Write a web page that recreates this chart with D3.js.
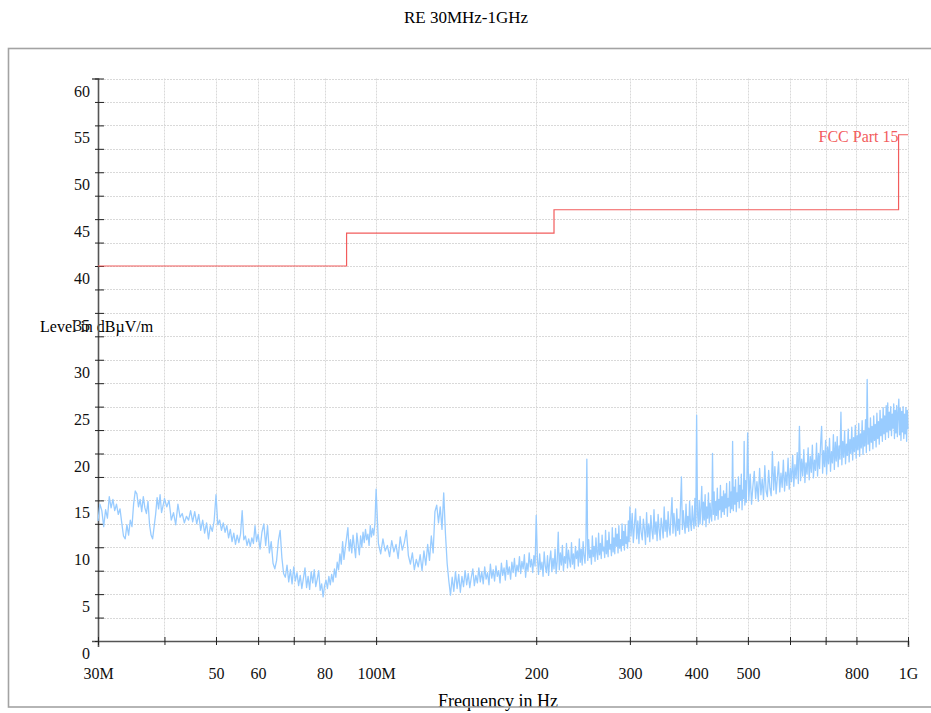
<!DOCTYPE html>
<html>
<head>
<meta charset="utf-8">
<script src="https://cdn.jsdelivr.net/npm/d3@7"></script>
<style>
  body { margin: 0; background: #fff; }
  svg text { font-family: "Liberation Serif", "Times New Roman", serif; }
</style>
</head>
<body>
<svg></svg>
<script>
// frequencies in MHz, levels in dBµV/m
let trace30to60 = [
  [30,12.8],[30.25,14.6],[30.5,13.9],[30.75,12.2],[31,14.0],[31.25,13.1],[31.5,15.4],[31.75,14.2],[32,15.1],[32.25,13.9],
  [32.5,14.6],[32.75,13.5],[33,14.1],[33.25,12.6],[33.5,11.2],[33.75,10.9],[34,12.4],[34.25,11.3],[34.5,12.9],[34.75,12.2],
  [35,14.6],[35.25,16.0],[35.5,15.7],[35.75,14.3],[36,15.1],[36.25,13.8],[36.5,15.4],[36.75,14.2],[37,13.6],[37.25,14.9],
  [37.5,12.4],[37.75,11.3],[38,10.9],[38.25,12.2],[38.5,13.5],[38.75,15.3],[39,14.1],[39.25,15.6],[39.5,13.7],[39.75,14.4],
  [40,15.2],[40.4,14.3],[40.8,15.0],[41.2,12.9],[41.6,13.7],[42,12.4],[42.4,14.6],[42.8,13.2],[43.2,13.6],[43.6,12.6],
  [44,13.3],[44.4,12.9],[44.8,13.9],[45.2,12.7],[45.6,13.8],[46,12.5],[46.4,13.5],[46.8,11.8],[47.2,12.9],[47.6,11.5],
  [48,12.6],[48.4,10.9],[48.8,12.3],[49.2,11.7],[49.6,12.8],[50,15.6],[50.4,12.4],[50.8,12.9],[51.2,11.8],[51.6,12.6],
  [52,11.6],[52.4,12.3],[52.8,11.0],[53.2,11.9],[53.6,10.6],[54,11.5],[54.4,10.3],[54.8,11.3],[55.2,10.5],[55.6,11.4],
  [56,13.9],[56.4,10.8],[56.8,11.2],[57.2,10.2],[57.6,10.9],[58,10.1],[58.4,11.0],[58.8,10.4],[59.2,12.3],[59.6,10.6],[60,11.4]
]

let trace60to100 = [
  [60.5,9.8],[61,11.6],[61.5,12.5],[62,10.2],[62.5,12.3],[63,9.4],[63.5,10.6],[64,8.3],[64.5,7.7],[65,8.6],
  [65.5,10.7],[66,11.8],[66.5,8.9],[67,7.2],[67.5,6.8],[68,8.1],[68.5,6.3],[69,7.6],[69.5,6.1],[70,7.9],
  [70.5,6.4],[71,7.3],[71.5,5.9],[72,7.0],[72.5,5.6],[73,6.7],[73.5,7.8],[74,5.7],[74.5,6.9],[75,5.5],
  [75.5,7.4],[76,6.2],[76.5,7.6],[77,5.8],[77.5,6.6],[78,7.5],[78.5,5.4],[79,6.1],[79.5,4.7],[80,5.9],
  [80.5,6.5],[81,5.6],[81.5,6.9],[82,6.0],[82.5,7.1],[83,6.3],[83.5,7.7],[84,6.8],[84.5,8.4],[85,7.6],
  [85.5,9.3],[86,8.2],[86.5,10.6],[87,8.7],[87.5,9.9],[88,11.0],[88.5,12.1],[89,9.6],[89.5,10.8],[90,9.4],
  [90.5,11.3],[91,10.1],[91.5,8.9],[92,11.5],[92.5,10.3],[93,9.2],[93.5,11.2],[94,10.0],[94.5,11.6],[95,10.5],
  [95.5,11.9],[96,10.8],[96.5,11.4],[97,10.2],[97.5,12.3],[98,11.1],[98.5,12.0],[99,11.3],[99.5,12.6],[100,16.2]
]

let trace100to200 = [
  [101,10.4],[102,9.3],[103,10.9],[104,9.6],[105,10.2],[106,9.0],[107,10.7],[108,9.5],[109,10.3],[110,8.8],
  [111,11.1],[112,9.7],[113,10.5],[114,11.8],[115,9.1],[116,8.2],[117,9.4],[118,7.6],[119,8.7],[120,7.9],
  [121,9.2],[122,7.5],[123,9.6],[124,8.1],[125,10.3],[126,8.6],[127,11.2],[128,9.4],[129,13.8],[130,14.5],
  [131,12.6],[132,14.3],[133,11.9],[134,15.8],[135,11.5],[136,8.3],[137,6.4],[138,4.9],[139,6.8],[140,5.3],
  [141,7.4],[142,5.6],[143,7.1],[144,5.2],[145,6.9],[146,5.8],[147,7.5],[148,6.0],[149,7.2],[150,5.7],
  [151,6.8],[152,7.7],[153,5.9],[154,7.0],[155,6.2],[156,7.8],[157,6.3],[158,7.4],[159,6.1],[160,7.9],
  [161,6.6],[162,7.3],[163,6.0],[164,8.2],[165,6.7],[166,7.6],[167,6.4],[168,8.0],[169,6.9],[170,7.5],
  [171,6.2],[172,8.3],[173,7.0],[174,7.8],[175,6.5],[176,8.6],[177,7.1],[178,7.9],[179,6.6],[180,8.4],
  [181,7.3],[182,8.8],[183,6.9],[184,8.1],[185,7.4],[186,9.0],[187,7.2],[188,8.5],[189,7.7],[190,9.2],
  [191,6.8],[192,8.3],[193,7.5],[194,9.4],[195,7.9],[196,8.7],[197,7.3],[198,9.1],[199,8.0],[200,13.4]
]

let trace200to300 = [
  [201,8.9],[202,7.1],[203,9.3],[204,7.6],[205,8.4],[206,6.9],[207,9.5],[208,8.0],[209,7.3],[210,9.1],
  [211,7.0],[212,8.6],[213,9.6],[214,7.4],[215,8.8],[216,7.7],[217,9.8],[218,7.2],[219,8.5],[220,11.6],
  [221,7.6],[222,9.4],[223,8.1],[224,10.2],[225,7.5],[226,9.0],[227,8.3],[228,10.4],[229,7.8],[230,9.7],
  [231,8.6],[232,7.9],[233,10.5],[234,8.2],[235,9.3],[236,7.7],[237,10.1],[238,8.8],[239,9.6],[240,8.0],
  [241,10.9],[242,8.4],[243,9.8],[244,8.1],[245,10.6],[246,9.1],[247,8.3],[248,10.3],[249,19.4],[250,8.6],
  [251,10.8],[252,8.9],[253,9.7],[254,8.2],[255,11.2],[256,9.0],[257,10.1],[258,8.5],[259,11.0],[260,9.4],
  [261,8.7],[262,11.5],[263,9.2],[264,10.4],[265,8.8],[266,11.3],[267,9.6],[268,10.0],[269,8.9],[270,11.8],
  [271,9.3],[272,10.7],[273,9.0],[274,11.6],[275,9.8],[276,10.3],[277,9.1],[278,12.1],[279,9.5],[280,11.0],
  [281,9.3],[282,12.0],[283,10.1],[284,11.4],[285,9.4],[286,12.3],[287,9.9],[288,10.8],[289,9.6],[290,12.5],
  [291,10.2],[292,11.7],[293,9.7],[294,12.4],[295,10.4],[296,11.1],[297,9.9],[298,12.8],[299,10.6],[300,14.3]
]

let trace300to500 = [
  [301.5,11.2],[303,13.6],[304.5,10.5],[306,12.4],[307.5,14.1],[309,10.9],[310.5,12.8],[312,10.4],[313.5,13.3],[315,11.6],
  [316.5,10.8],[318,13.0],[319.5,11.9],[321,10.3],[322.5,13.7],[324,11.1],[325.5,12.5],[327,10.6],[328.5,13.4],[330,11.8],
  [331.5,10.9],[333,14.0],[334.5,11.4],[336,12.7],[337.5,10.7],[339,13.5],[340.5,11.9],[342,10.8],[343.5,13.1],[345,12.2],
  [346.5,11.0],[348,14.3],[349.5,11.7],[351,12.9],[352.5,11.1],[354,13.8],[355.5,12.0],[357,11.3],[358.5,13.4],[360,15.3],
  [361.5,11.5],[363,13.6],[364.5,12.3],[366,11.2],[367.5,14.1],[369,11.8],[370.5,13.0],[372,11.4],[373.5,14.5],[375,17.5],
  [376.5,11.9],[378,13.9],[379.5,12.4],[381,11.5],[382.5,14.6],[384,12.1],[385.5,13.3],[387,11.7],[388.5,14.9],[390,12.6],
  [391.5,11.8],[393,14.4],[394.5,12.8],[396,12.0],[397.5,15.2],[399,12.3],[400.5,24.1],[402,13.7],[403.5,12.2],[405,15.0],
  [406.5,12.5],[408,14.1],[409.5,16.5],[411,12.4],[412.5,14.8],[414,12.9],[415.5,15.6],[417,12.2],[418.5,14.3],[420,13.1],
  [421.5,15.8],[423,12.6],[424.5,14.7],[426,13.3],[427.5,12.8],[429,20.0],[430.5,13.5],[432,15.9],[433.5,12.9],[435,14.9],
  [436.5,13.4],[438,16.3],[439.5,13.0],[441,15.1],[442.5,14.0],[444,16.6],[445.5,13.2],[447,15.4],[448.5,13.8],[450,16.0],
  [451.5,13.5],[453,15.7],[454.5,14.2],[456,16.8],[457.5,13.3],[459,15.2],[460.5,14.4],[462,17.0],[463.5,13.7],[465,15.9],
  [466.5,14.1],[468,21.3],[469.5,13.9],[471,16.4],[472.5,14.6],[474,17.2],[475.5,13.8],[477,15.8],[478.5,14.9],[480,17.5],
  [481.5,14.2],[483,16.6],[484.5,15.0],[486,17.8],[487.5,14.0],[489,16.1],[490.5,15.2],[492,21.3],[493.5,14.5],[495,17.1],
  [496.5,14.8],[498,17.6],[499.5,22.2]
]

let trace500to1000 = [
  [502,15.0],[505,17.8],[508,14.6],[511,16.5],[514,18.1],[517,15.2],[520,17.0],[523,14.9],[526,18.4],[529,15.6],
  [532,17.3],[535,15.1],[538,18.7],[541,16.0],[544,15.4],[547,18.2],[550,16.3],[553,15.5],[556,20.2],[559,16.1],
  [562,18.6],[565,15.7],[568,17.4],[571,19.1],[574,15.9],[577,17.9],[580,16.4],[583,19.3],[586,16.0],[589,18.0],
  [592,16.6],[595,19.5],[598,16.2],[601,18.4],[604,17.0],[607,19.8],[610,16.5],[613,18.8],[616,17.3],[619,20.1],
  [622,16.8],[625,22.9],[628,17.1],[631,19.4],[634,17.6],[637,20.4],[640,16.9],[643,19.0],[646,17.8],[649,20.6],
  [652,17.2],[655,19.7],[658,18.0],[661,20.9],[664,17.4],[667,19.3],[670,18.2],[673,21.1],[676,17.6],[679,20.0],
  [682,18.4],[685,21.0],[688,22.9],[691,17.9],[694,20.3],[697,18.6],[700,21.4],[703,17.8],[706,20.7],[709,18.9],
  [712,21.6],[715,18.1],[718,20.2],[721,19.0],[724,22.0],[727,18.3],[730,21.2],[733,19.2],[736,21.8],[739,18.6],
  [742,20.8],[745,19.4],[748,24.4],[751,18.8],[754,21.3],[757,19.6],[760,22.4],[763,18.9],[766,21.0],[769,19.8],
  [772,22.6],[775,19.1],[778,21.5],[781,20.0],[784,22.8],[787,19.3],[790,21.7],[793,20.2],[796,23.0],[799,19.5],
  [802,21.9],[805,20.4],[808,23.2],[811,19.7],[814,22.1],[817,20.6],[820,23.5],[823,19.9],[826,22.4],[829,20.8],
  [832,23.6],[835,20.1],[838,27.9],[841,21.0],[844,22.7],[847,20.3],[850,23.8],[853,21.2],[856,22.9],[859,20.5],
  [862,24.0],[865,21.4],[868,23.1],[871,20.7],[874,24.3],[877,21.6],[880,23.4],[883,21.0],[886,24.6],[889,21.9],
  [892,23.7],[895,21.3],[898,24.9],[901,22.1],[904,24.0],[907,21.5],[910,25.1],[913,22.3],[916,25.4],[919,21.7],
  [922,24.4],[925,22.5],[928,25.0],[931,21.9],[934,24.2],[937,22.7],[940,25.3],[943,21.6],[946,24.6],[949,22.2],
  [952,25.1],[955,21.8],[958,24.3],[961,25.8],[964,22.0],[967,24.8],[970,21.4],[973,24.5],[976,22.3],[979,25.0],
  [982,21.6],[985,24.2],[988,22.1],[991,24.9],[994,21.3],[997,24.6],[1000,22.6]
]

// FCC Part 15 limit: band edges (MHz) and level for each band
let limitEdges = [30, 88, 216, 960, 1000]
let limitLevels = [40, 43.5, 46, 54]

let xTicks = [30, 40, 50, 60, 70, 80, 100, 200, 300, 400, 500, 600, 700, 800, 1000]
let xTickLabels = {30: "30M", 50: "50", 60: "60", 80: "80", 100: "100M", 200: "200", 300: "300", 400: "400", 500: "500", 800: "800", 1000: "1G"}
let yTicks = d3.range(0, 60.1, 2.5)

let width = 931
let height = 713

let svg = d3.select("svg")
let xScale
let yScale

let drawCanvas = () => {
  svg.attr("width", width)
     .attr("height", height)
     .style("background", "#fff")
}

let generateScales = () => {
  xScale = d3.scaleLog()
             .domain([30, 1000])
             .range([98, 908])

  yScale = d3.scaleLinear()
             .domain([0, 60])
             .range([641, 78.5])
}

let generateGrid = () => {
  let grid = svg.append("g")
                .attr("stroke", "#d9d9d9")
                .attr("stroke-width", 1)
                .attr("stroke-dasharray", "2,1")

  grid.selectAll(".hgrid")
      .data(yTicks.filter(d => d > 0))
      .enter()
      .append("line")
      .attr("x1", xScale(30))
      .attr("x2", xScale(1000))
      .attr("y1", d => Math.round(yScale(d)) + 0.5)
      .attr("y2", d => Math.round(yScale(d)) + 0.5)

  grid.selectAll(".vgrid")
      .data(xTicks.filter(d => d > 30))
      .enter()
      .append("line")
      .attr("x1", d => Math.round(xScale(d)) + 0.5)
      .attr("x2", d => Math.round(xScale(d)) + 0.5)
      .attr("y1", yScale(60))
      .attr("y2", yScale(0))
}

let generateTitle = () => {
  svg.append("text")
     .text("RE 30MHz-1GHz")
     .attr("x", 466)
     .attr("y", 23)
     .attr("text-anchor", "middle")
     .style("font-size", "17px")

  // sits on top of the "35" tick label, as in the original
  svg.append("text")
     .text("Level in dBµV/m")
     .attr("x", 40)
     .attr("y", 332)
     .style("font-size", "16px")

  svg.append("text")
     .text("Frequency in Hz")
     .attr("x", 498)
     .attr("y", 707)
     .attr("text-anchor", "middle")
     .style("font-size", "18px")
}

let generateAxes = () => {
  let yAxis = d3.axisLeft(yScale)
                .tickValues(yTicks)
                .tickFormat(d => d % 5 === 0 ? d : "")

  let yg = svg.append("g")
              .attr("transform", "translate(98,0)")
              .call(yAxis)
  yg.select(".domain").attr("stroke", "#555").attr("stroke-width", 1.6)
  yg.selectAll(".tick line").attr("x1", -3).attr("x2", 6).attr("stroke", "#222")
  yg.selectAll(".tick text")
    .attr("x", -8)
    .attr("dy", "17.5px")
    .style("font-size", "16px")
    .style("font-family", "'Liberation Serif', serif")
    .attr("fill", "#111")

  let xAxis = d3.axisBottom(xScale)
                .tickValues(xTicks)
                .tickFormat(d => xTickLabels[d] || "")

  let xg = svg.append("g")
              .attr("transform", "translate(0,641)")
              .call(xAxis)
  xg.select(".domain").attr("stroke", "#555").attr("stroke-width", 1.6)
  xg.selectAll(".tick line").attr("y1", -4).attr("y2", 4).attr("stroke", "#222")
  xg.selectAll(".tick text")
    .attr("y", 38)
    .attr("dy", 0)
    .style("font-size", "16px")
    .style("font-family", "'Liberation Serif', serif")
    .attr("fill", "#111")
}

let drawLimit = () => {
  let steps = limitLevels.map((lv, i) => [limitEdges[i], lv])
  steps.push([limitEdges[limitEdges.length - 1], limitLevels[limitLevels.length - 1]])

  let line = d3.line()
               .x(d => xScale(d[0]))
               .y(d => yScale(d[1]))
               .curve(d3.curveStepAfter)

  svg.append("path")
     .datum(steps)
     .attr("d", line)
     .attr("fill", "none")
     .attr("stroke", "#f25c5c")
     .attr("stroke-width", 1.2)

  svg.append("text")
     .text("FCC Part 15")
     .attr("x", xScale(960))
     .attr("y", yScale(54) + 7)
     .attr("text-anchor", "end")
     .attr("fill", "#f25c5c")
     .style("font-size", "16px")
}

let drawTrace = () => {
  let data = [].concat(trace30to60, trace60to100, trace100to200, trace200to300, trace300to500, trace500to1000)

  let line = d3.line()
               .x(d => xScale(d[0]))
               .y(d => yScale(d[1]))

  svg.append("path")
     .datum(data)
     .attr("d", line)
     .attr("fill", "none")
     .attr("stroke", "#99ccff")
     .attr("stroke-width", 1.3)
     .attr("stroke-linejoin", "round")
}

let generateFrame = () => {
  svg.append("rect")
     .attr("x", 8.5)
     .attr("y", 48.5)
     .attr("width", 940)
     .attr("height", 658.5)
     .attr("fill", "none")
     .attr("stroke", "#a3a3a3")
     .attr("stroke-width", 1.6)
}

drawCanvas()
generateScales()
generateGrid()
generateTitle()
generateAxes()
drawLimit()
drawTrace()
generateFrame()
</script>
</body>
</html>
